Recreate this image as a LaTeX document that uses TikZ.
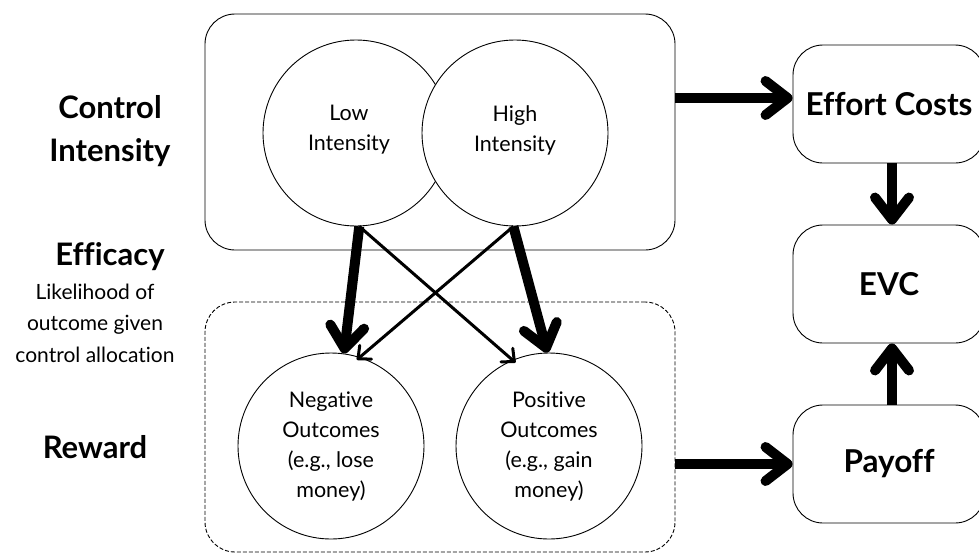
\documentclass[tikz,border=0pt]{standalone}
\usepackage{fontspec}
\setmainfont{Lato}[Ligatures=NoCommon]
\usetikzlibrary{arrows.meta}

\tikzset{
  thinline/.style={line width=0.9pt},
  panel/.style={draw, thinline, rounded corners=30pt, fill=white},
  state/.style={draw, thinline, circle, fill=white, minimum size=186pt,
    inner sep=0pt, align=center, font=\fontsize{21.5}{30}\selectfont},
  stagebox/.style={draw, thinline, rounded corners=30pt, fill=white,
    minimum width=192pt, minimum height=118pt, inner sep=0pt,
    font=\bfseries\fontsize{31.5}{36}\selectfont},
  heading/.style={align=center, inner sep=0pt, font=\bfseries\fontsize{31}{43}\selectfont},
  note/.style={align=center, inner sep=0pt, font=\fontsize{21}{31.5}\selectfont},
  bigarrow/.style={line width=10pt, -{Straight Barb[length=22pt,width=34pt,round]}},
  thinarrow/.style={line width=3pt, -{Straight Barb[length=10pt,width=18pt,round]}},
}

\begin{document}
\begin{tikzpicture}[x=1pt, y=-1pt]
\useasboundingbox (0,0) rectangle (979,552);
\clip (0,0) rectangle (979,552);

% row labels
\node[heading] (lblctrl) at (110,131) {Control\\Intensity};
\node[heading] (lbleff) at (110,257) {Efficacy};
\node[note] (lblnote) at (95,323) {Likelihood of\\outcome given\\control allocation};
\node[heading] (lblrew) at (95,447) {Reward};

% control intensity panel
\node[panel, minimum width=470pt, minimum height=236pt] (ctrl) at (440,132) {};
\node[state] (low) at (356,133) {};
\node[align=center, inner sep=0pt, font=\fontsize{21.5}{30}\selectfont] (lowtext) at (349,130) {Low\\Intensity};
\node[state] (high) at (515,133) {};
\node[align=center, inner sep=0pt, font=\fontsize{21.5}{30}\selectfont] (hightext) at (515,130) {High\\Intensity};

% reward panel
\node[panel, dashed, dash pattern=on 4pt off 2pt, minimum width=470pt, minimum height=250pt] (rew) at (440,427) {};
\node[state] (neg) at (331,446) {Negative\\Outcomes\\(e.g., lose\\money)};
\node[state] (pos) at (549,446) {Positive\\Outcomes\\(e.g., gain\\money)};

% stages on the right
\node[stagebox] (effort) at (889,104) {Effort Costs};
\node[stagebox] (evc) at (889,284) {EVC};
\node[stagebox] (payoff) at (889,464) {Payoff};

% efficacy links
\draw[bigarrow] (low.-88) -- (neg.82);
\draw[bigarrow] (high.-91) -- (pos.91);
\draw[thinarrow, shorten >=-4pt] (low.-88) -- (pos.113);
\draw[thinarrow, shorten >=-4pt] (high.-91) -- (neg.72);

% flow into EVC
\draw[bigarrow] (ctrl.east |- 0,98) -- (effort.west |- 0,98);
\draw[bigarrow] (rew.east |- payoff.west) -- (payoff.west);
\draw[bigarrow] ([xshift=3pt]effort.south) -- ([xshift=3pt]evc.north);
\draw[bigarrow] ([xshift=3pt]payoff.north) -- ([xshift=3pt]evc.south);
\end{tikzpicture}
\end{document}
